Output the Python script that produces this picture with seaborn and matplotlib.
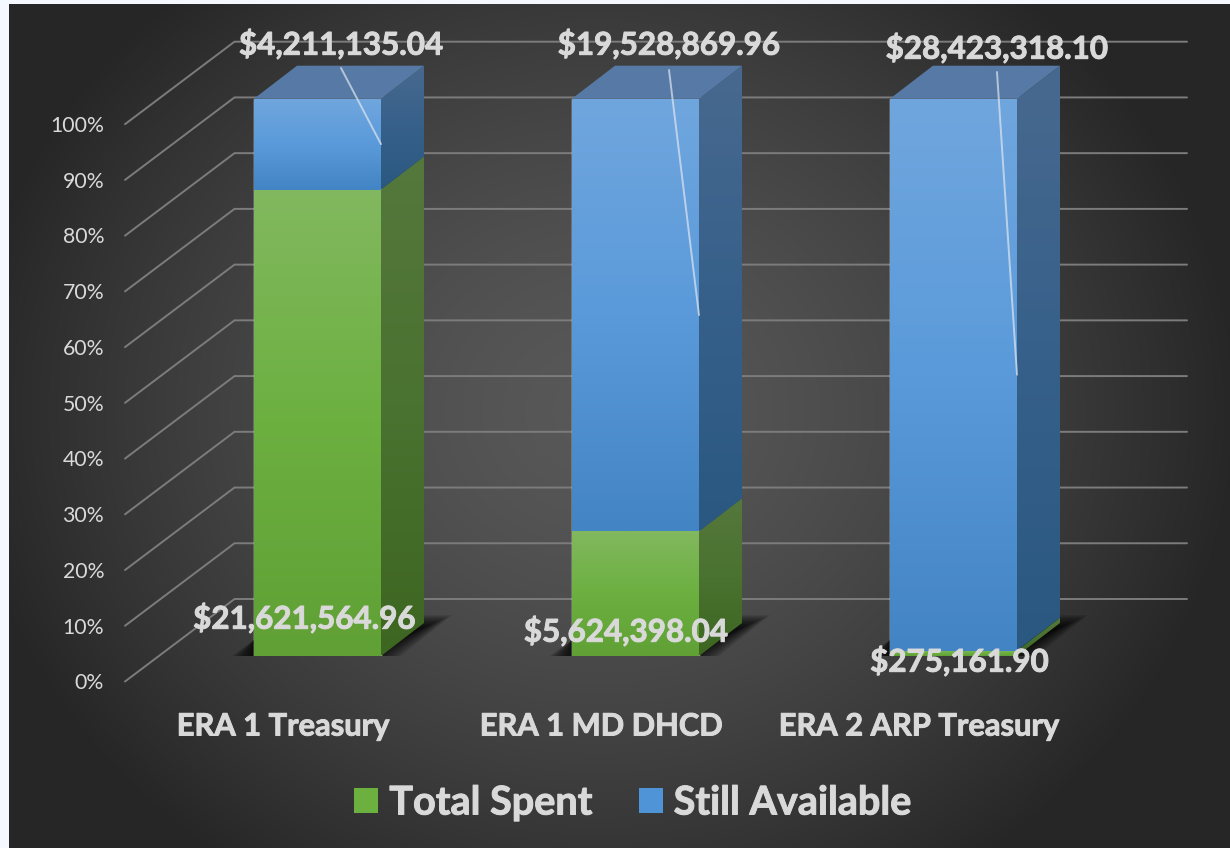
"""
Stacked 3D-look bar chart of money spent and still available per ERA program.
"""
import numpy as np
import pandas as pd
import matplotlib
matplotlib.use("Agg")
import matplotlib.pyplot as plt
import matplotlib.patheffects as path_effects
import matplotlib.transforms as mtransforms
from matplotlib.colors import LinearSegmentedColormap
from matplotlib.patches import Patch, Polygon
import seaborn as sns

programs = ["ERA 1 Treasury", "ERA 1 MD DHCD", "ERA 2 ARP Treasury"]
total_spent = [21621564.96, 5624398.04, 275161.90]
still_available = [4211135.04, 19528869.96, 28423318.10]
percent_ticks = [0, 10, 20, 30, 40, 50, 60, 70, 80, 90, 100]

W, H = 1230, 848
TEXT = "#d9d9d9"
HEAVY = [path_effects.withStroke(linewidth=0.7, foreground=TEXT)]

# pixel layout of the front plane of the bars
BAR_LEFT = 110
BAR_BASE = 656
BAR_TOP = 98.7
X_STEP = 318
X_FIRST = 317.5
PX_PER_PCT = (BAR_BASE - BAR_TOP) / 100


def dx(px):
    return px / X_STEP


def dy(px):
    return px / PX_PER_PCT


def px_x(px):
    return (px - X_FIRST) / X_STEP


def px_y(py):
    return (BAR_BASE - py) / PX_PER_PCT


def gradient_fill(ax, verts, colors, zorder):
    """Fills the polygon 'verts' with a top to bottom gradient."""
    poly = Polygon(verts, closed=True, facecolor="none", edgecolor="none",
                   zorder=zorder, clip_on=False)
    ax.add_patch(poly)
    xs = [v[0] for v in verts]
    ys = [v[1] for v in verts]
    cmap = LinearSegmentedColormap.from_list("face", colors)
    grad = np.linspace(0, 1, 256).reshape(-1, 1)
    im = ax.imshow(grad, extent=(min(xs), max(xs), min(ys), max(ys)),
                   origin="upper", aspect="auto", cmap=cmap, zorder=zorder,
                   interpolation="bilinear")
    im.set_clip_box(ax.figure.bbox)
    im.set_clip_path(poly)


def draw_background(fig):
    bg = fig.add_axes([0, 0, 1, 1], zorder=0)
    xx, yy = np.meshgrid(np.arange(W), np.arange(H))
    r = np.sqrt(((xx - 600) / 640) ** 2 + ((yy - 410) / 560) ** 2)
    r = np.clip(r, 0, 1)
    shade = (0x58 - (0x58 - 0x26) * r ** 1.5) / 255
    rgba = np.dstack([shade, shade, shade, np.ones_like(shade)])
    rgba[:, :9, :3] = (0xf5 / 255, 0xf8 / 255, 1)
    rgba[:4, :, :3] = (0xf5 / 255, 0xf8 / 255, 1)
    bg.imshow(rgba, extent=(0, W, H, 0), aspect="auto", interpolation="nearest")
    bg.axis("off")


def draw_shadow(ax, bar_x, bar_w):
    # stacked translucent shapes give the soft floor shadow
    d_x = dx(43)
    for k in range(16):
        g = dx(k * 2.0)
        up = k * 0.9
        verts = [(bar_x - dx(28) + g, px_y(660 - up * 0.35)),
                 (bar_x + bar_w + dx(14) - g, px_y(661 - up * 0.35)),
                 (bar_x + bar_w + d_x + dx(28) - g, px_y(615 + up)),
                 (bar_x + bar_w + d_x, px_y(615 + up)),
                 (bar_x, px_y(640))]
        ax.add_patch(Polygon(verts, closed=True, facecolor="black",
                             edgecolor="none", alpha=0.085, zorder=2))


def main():
    sns.set_theme(style="dark")
    plt.rcParams["font.family"] = ["Lato", "DejaVu Sans"]
    fig = plt.figure(figsize=(W / 100, H / 100), dpi=100, facecolor="#f5f8ff")
    draw_background(fig)

    spent = np.array(total_spent)
    avail = np.array(still_available)
    spent_pct = spent / (spent + avail) * 100
    avail_pct = avail / (spent + avail) * 100
    df = pd.DataFrame({"program": programs, "spent": spent_pct,
                       "available": avail_pct})

    ax = fig.add_axes([BAR_LEFT / W, (H - BAR_BASE) / H,
                       (W - BAR_LEFT) / W, (BAR_BASE - BAR_TOP) / H], zorder=1)
    ax.patch.set_visible(False)

    bar_w = 127 / X_STEP
    sns.barplot(data=df, x="program", y="spent", color="#6cb040", width=bar_w,
                saturation=1, ax=ax, zorder=4)
    sns.barplot(data=df, x="program", y="available", color="#4f94d6",
                width=bar_w, saturation=1, bottom=spent_pct, ax=ax, zorder=4)

    # walls: gridlines run from the front edge to the back wall and across
    d_x, d_y = dx(43), dy(33)
    for t in percent_ticks:
        front_y = t + px_y(681.5)
        back_y = t + px_y(599)
        ax.plot([px_x(125), px_x(234.5), px_x(1187)], [front_y, back_y, back_y],
                color="#7c7c7c", lw=1.4, clip_on=False, zorder=1,
                solid_joinstyle="miter")

    n = len(programs)
    green_bars = ax.patches[:n]
    blue_bars = ax.patches[n:]
    for i in range(n):
        g, b = green_bars[i], blue_bars[i]
        x, w = g.get_x(), g.get_width()
        y0, y1 = g.get_y(), g.get_y() + g.get_height()
        y2 = b.get_y() + b.get_height()
        draw_shadow(ax, x, w)

        # front faces
        gradient_fill(ax, [(x, y0), (x + w, y0), (x + w, y1), (x, y1)],
                      ["#82b85f", "#6cb040", "#60a035"], 5)
        gradient_fill(ax, [(x, y1), (x + w, y1), (x + w, y2), (x, y2)],
                      ["#70a6de", "#5a9ada", "#4384c5"], 5)
        # side faces
        gradient_fill(ax, [(x + w, y0), (x + w + d_x, y0 + d_y),
                           (x + w + d_x, y1 + d_y), (x + w, y1)],
                      ["#55783c", "#4a7230", "#3d6621"], 4)
        gradient_fill(ax, [(x + w, y1), (x + w + d_x, y1 + d_y),
                           (x + w + d_x, y2 + d_y), (x + w, y2)],
                      ["#48698f", "#36608a", "#2a5880"], 4)
        # top face
        ax.add_patch(Polygon([(x, y2), (x + d_x, y2 + d_y),
                              (x + w + d_x, y2 + d_y), (x + w, y2)],
                             closed=True, facecolor="#567aa5",
                             edgecolor="none", zorder=4, clip_on=False))

    ax.set_xlim(px_x(BAR_LEFT), px_x(W))
    ax.set_ylim(0, 100)

    # data labels, spent near the base and available above the bar
    spent_xy = [(304.5, 619), (626, 632), (959.5, 662)]
    avail_xy = [(341, 45), (669, 45), (997, 49)]
    leader_start = [(341, 68), (669, 70), (997, 72)]
    for i in range(n):
        ax.text(px_x(spent_xy[i][0]), px_y(spent_xy[i][1]),
                "${:,.2f}".format(total_spent[i]), color=TEXT, fontsize=22.6,
                fontweight="bold", ha="center", va="center", zorder=8,
                clip_on=False, path_effects=HEAVY)
        ax.text(px_x(avail_xy[i][0]), px_y(avail_xy[i][1]),
                "${:,.2f}".format(still_available[i]), color=TEXT,
                fontsize=22.6, fontweight="bold", ha="center", va="center",
                zorder=8, clip_on=False, path_effects=HEAVY)
        b = blue_bars[i]
        ax.plot([px_x(leader_start[i][0]), b.get_x() + b.get_width()],
                [px_y(leader_start[i][1]), b.get_y() + b.get_height() / 2],
                color="#dfe6f0", alpha=0.7, lw=1.4, clip_on=False, zorder=7)

    # axis text, shifted off the bar plane to the front of the floor
    ax.set_yticks(percent_ticks)
    ax.set_yticklabels(["{}%".format(t) for t in percent_ticks])
    ax.set_xticks(range(n))
    ax.set_xticklabels(programs)
    ax.set_xlabel("")
    ax.set_ylabel("")
    ax.tick_params(axis="y", length=0, pad=4.3, labelsize=15.3, labelcolor=TEXT)
    ax.tick_params(axis="x", length=0, pad=40.7, labelsize=22.2, labelcolor=TEXT)
    y_shift = mtransforms.ScaledTranslation(0, -25.3 / 100, fig.dpi_scale_trans)
    x_shift = mtransforms.ScaledTranslation(-34 / 100, 0, fig.dpi_scale_trans)
    for label in ax.get_yticklabels():
        label.set_transform(label.get_transform() + y_shift)
    for label in ax.get_xticklabels():
        label.set_fontweight("bold")
        label.set_path_effects(HEAVY)
        label.set_transform(label.get_transform() + x_shift)
    sns.despine(ax=ax, left=True, bottom=True)

    handles = [Patch(facecolor="#6cb040", edgecolor="none", label="Total Spent"),
               Patch(facecolor="#4f94d6", edgecolor="none",
                     label="Still Available")]
    leg = ax.legend(handles=handles, ncol=2, frameon=False, loc="center",
                    bbox_to_anchor=(633 / W, 1 - 803 / H),
                    bbox_transform=fig.transFigure, handlelength=0.6,
                    handleheight=0.6, handletextpad=0.28, columnspacing=1.16,
                    labelcolor=TEXT, prop={"weight": "bold", "size": 28.5})
    leg.set_zorder(9)
    for label in leg.get_texts():
        label.set_path_effects(HEAVY)

    fig.savefig("out.png", dpi=100, facecolor=fig.get_facecolor())


if __name__ == '__main__':
    main()
